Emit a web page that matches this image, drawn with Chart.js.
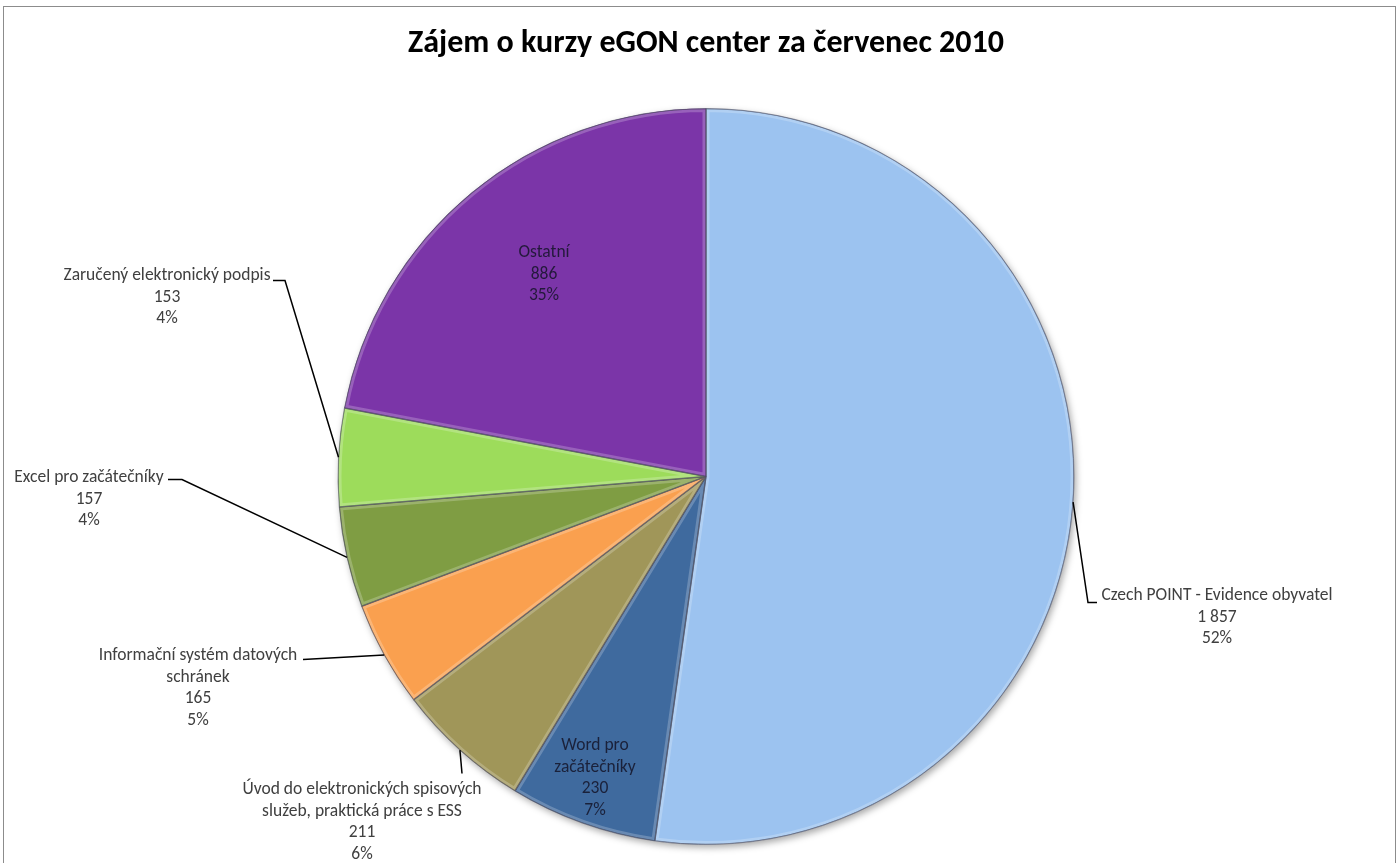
<!DOCTYPE html>
<html>
<head>
<meta charset="utf-8">
<title>Zájem o kurzy eGON center za červenec 2010</title>
<script src="https://cdn.jsdelivr.net/npm/chart.js@4.4.0/dist/chart.umd.min.js"></script>
<style>
  html, body { margin: 0; padding: 0; background: #fff; }
  #frame { position: absolute; left: 3px; top: 6px; width: 1393px; height: 900px; border: 1px solid #8c8c8c; box-sizing: border-box; }
  #wrap { position: absolute; left: 0; top: 0; width: 1400px; height: 863px; }
</style>
</head>
<body>
<div id="frame"></div>
<div id="wrap"><canvas id="pieChart"></canvas></div>
<script>
// course names, already wrapped the way the original chart shows them
const courseLines = [
  ["Czech POINT - Evidence obyvatel"],
  ["Word pro", "začátečníky"],
  ["Úvod do elektronických spisových", "služeb, praktická práce s ESS"],
  ["Informační systém datových", "schránek"],
  ["Excel pro začátečníky"],
  ["Zaručený elektronický podpis"],
  ["Ostatní"]
];
const shownCounts = ["1 857", "230", "211", "165", "157", "153", "886"];
const shownShares = ["52%", "7%", "6%", "5%", "4%", "4%", "35%"];
// slice sizes as drawn (the "Ostatní" wedge is smaller than its label says)
const sliceValues = [1857, 230, 211, 165, 157, 153, 783];
const sliceColors = ["#9cc3f0", "#3f6a9e", "#a09659", "#faa04f", "#7f9d43", "#9ddc5b", "#7b35a8"];

// where each label sits, relative to the pie centre (px)
const labelPlace = [
  { inside: false, dx: 511, dy: 119, elbow: [382, 126], end: [391, 126] },
  { inside: true,  dx: -111, dy: 269 },
  { inside: false, dx: -344, dy: 313, elbow: [-244, 297], end: [-244, 297] },
  { inside: false, dx: -508, dy: 179, elbow: [-403, 183], end: [-403, 183] },
  { inside: false, dx: -617, dy: 1,   elbow: [-524, 3], end: [-538, 3] },
  { inside: false, dx: -539, dy: -201, elbow: [-421, -196], end: [-433, -196] },
  { inside: true,  dx: -162, dy: -224 }
];

const TITLE_FONT = "Carlito, Lato, 'Open Sans', sans-serif";
const LABEL_FONT = "Carlito, 'Open Sans', Lato, sans-serif";

const pieShadow = {
  id: "pieShadow",
  beforeDatasetsDraw(chart) {
    const arc = chart.getDatasetMeta(0).data[0];
    if (!arc) return;
    const ctx = chart.ctx;
    ctx.save();
    ctx.shadowColor = "rgba(0,0,0,0.35)";
    ctx.shadowBlur = 7;
    ctx.shadowOffsetX = 2;
    ctx.shadowOffsetY = 3;
    ctx.fillStyle = "#fff";
    ctx.beginPath();
    ctx.arc(arc.x, arc.y, arc.outerRadius, 0, Math.PI * 2);
    ctx.fill();
    ctx.restore();
  }
};

const bevelAndLabels = {
  id: "bevelAndLabels",
  afterDatasetsDraw(chart) {
    const ctx = chart.ctx;
    const arcs = chart.getDatasetMeta(0).data;

    // soft rim on each wedge
    arcs.forEach(a => {
      ctx.save();
      ctx.beginPath();
      ctx.moveTo(a.x, a.y);
      ctx.arc(a.x, a.y, a.outerRadius, a.startAngle, a.endAngle);
      ctx.closePath();
      ctx.clip();
      ctx.strokeStyle = "rgba(255,255,255,0.22)";
      ctx.lineWidth = 7;
      ctx.stroke();
      ctx.strokeStyle = "rgba(40,40,60,0.45)";
      ctx.lineWidth = 1.5;
      ctx.stroke();
      ctx.restore();
    });

    ctx.save();
    ctx.font = "17.5px " + LABEL_FONT;
    ctx.textAlign = "center";
    ctx.textBaseline = "middle";
    arcs.forEach((a, i) => {
      const p = labelPlace[i];
      const cx = a.x, cy = a.y;
      if (!p.inside) {
        const mid = (a.startAngle + a.endAngle) / 2;
        ctx.strokeStyle = "#000";
        ctx.lineWidth = 1.5;
        ctx.beginPath();
        ctx.moveTo(cx + Math.cos(mid) * a.outerRadius, cy + Math.sin(mid) * a.outerRadius);
        ctx.lineTo(cx + p.elbow[0], cy + p.elbow[1]);
        ctx.lineTo(cx + p.end[0], cy + p.end[1]);
        ctx.stroke();
        ctx.fillStyle = "#404040";
      } else {
        ctx.fillStyle = "rgba(20,20,40,0.85)";
      }
      const lines = courseLines[i].concat([shownCounts[i], shownShares[i]]);
      lines.forEach((t, k) => {
        ctx.fillText(t, cx + p.dx, cy + p.dy + k * 21.7);
      });
    });
    ctx.restore();
  }
};

new Chart(document.getElementById("pieChart"), {
  type: "pie",
  data: {
    labels: courseLines.map(l => l.join(" ")),
    datasets: [{
      data: sliceValues,
      backgroundColor: sliceColors,
      borderColor: "rgba(60,60,80,0.5)",
      borderWidth: 1
    }]
  },
  options: {
    responsive: true,
    maintainAspectRatio: false,
    animation: false,
    layout: { padding: { left: 12, right: 0, top: 0, bottom: 18 } },
    plugins: {
      legend: { display: false },
      tooltip: { enabled: false },
      title: {
        display: true,
        text: "Zájem o kurzy eGON center za červenec 2010",
        color: "#000",
        font: { family: TITLE_FONT, size: 32, weight: "bold", lineHeight: 1.2 },
        padding: { top: 25, bottom: 44.6 }
      }
    }
  },
  plugins: [pieShadow, bevelAndLabels]
});
</script>
</body>
</html>
